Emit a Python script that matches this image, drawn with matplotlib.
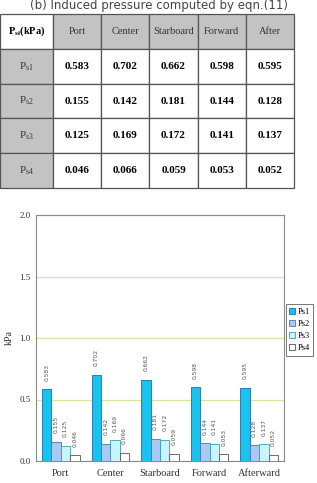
import matplotlib.pyplot as plt
import numpy as np

locations = ['Port', 'Center', 'Starboard', 'Forward', 'After']
categories = ['Port', 'Center', 'Starboard', 'Forward', 'Afterward']
series = ['Ps1', 'Ps2', 'Ps3', 'Ps4']
row_labels = ['P$_{\\mathregular{s1}}$', 'P$_{\\mathregular{s2}}$',
              'P$_{\\mathregular{s3}}$', 'P$_{\\mathregular{s4}}$']
ps1 = [0.583, 0.702, 0.662, 0.598, 0.595]
ps2 = [0.155, 0.142, 0.181, 0.144, 0.128]
ps3 = [0.125, 0.169, 0.172, 0.141, 0.137]
ps4 = [0.046, 0.066, 0.059, 0.053, 0.052]

colors = ['#19c3ee', '#a9c8f3', '#c8f5fc', '#ffffff']
edges = ['#1a6fa8', '#4d74b0', '#3b9cb5', '#555555']

W, H = 317, 483
fig = plt.figure(figsize=(W / 100, H / 100), dpi=100)
serif = 'Liberation Serif'

# Caption
fig.text(0.5, 1 - 6 / H, '(b) Induced pressure computed by eqn.(11)',
         ha='center', va='center', fontsize=8.5, color='#444444',
         family='DejaVu Sans')

# Table
tax = fig.add_axes([0, 1 - 188 / H, 294 / W, (188 - 14) / H])
tax.axis('off')
cell_text = [['P$_{\\mathregular{si}}$(kPa)'] + locations]
for lab, vals in zip(row_labels, [ps1, ps2, ps3, ps4]):
    cell_text.append([lab] + ['%.3f' % v for v in vals])
col_w = [53 / 294] + [48.2 / 294] * 5
tbl = tax.table(cellText=cell_text, colWidths=col_w, bbox=[0, 0, 1, 1],
                cellLoc='center')
tbl.auto_set_font_size(False)
for (r, c), cell in tbl.get_celld().items():
    cell.set_edgecolor('#555555')
    cell.set_linewidth(0.9)
    t = cell.get_text()
    t.set_family(serif)
    t.set_fontsize(7.5)
    if r == 0 and c == 0:
        cell.set_facecolor('white')
        t.set_fontweight('bold')
    elif r == 0 or c == 0:
        cell.set_facecolor('#c3c3c3')
        t.set_color('#333333')
        if c == 0:
            t.set_fontsize(8)
    else:
        t.set_fontweight('bold')
        t.set_fontsize(8)

# Bar chart
ax = fig.add_axes([36 / W, 1 - 461 / H, (284 - 36) / W, (461 - 215) / H])
x = np.arange(len(categories))
bw = 0.19
for i, (vals, name) in enumerate(zip([ps1, ps2, ps3, ps4], series)):
    pos = x + (i - 1.5) * bw
    ax.bar(pos, vals, bw, color=colors[i], edgecolor=edges[i],
           linewidth=0.6, label=name, zorder=3)
    for p, v in zip(pos, vals):
        ax.text(p, v + 0.07, '%.3f' % v, rotation=90, ha='center',
                va='bottom', fontsize=4.3, color='#555555')

ax.set_xlim(-0.5, len(categories) - 0.5)
ax.set_ylim(0, 2.0)
ax.set_yticks([0, 0.5, 1.0, 1.5, 2.0])
ax.set_yticklabels(['0.0', '0.5', '1.0', '1.5', '2.0'])
ax.set_xticks(x)
ax.set_xticklabels(categories)
ax.tick_params(length=0, labelsize=6.5, colors='#333333', pad=4)
for lab in ax.get_xticklabels() + ax.get_yticklabels():
    lab.set_family(serif)
ax.tick_params(axis='x', labelsize=7.5, pad=6)
ax.grid(axis='y', color='#d6e6a0', linewidth=0.9, zorder=0)
for s in ax.spines.values():
    s.set_color('#8a8a8a')
    s.set_linewidth(0.8)
ax.set_ylabel('kPa', family=serif, fontsize=7, color='#333333', labelpad=4)

leg = fig.legend(loc='center left', bbox_to_anchor=(286 / W, 1 - 330 / H),
                 prop={'family': serif, 'size': 6}, handlelength=0.7,
                 handleheight=0.7, handletextpad=0.3, borderpad=0.4,
                 labelspacing=0.5, fancybox=False, framealpha=1,
                 edgecolor='#777777', borderaxespad=0)
leg.get_frame().set_linewidth(0.7)

fig.savefig('out.png', dpi=100)
